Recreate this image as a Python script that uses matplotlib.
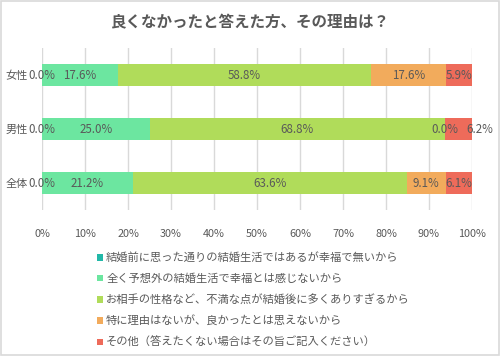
import matplotlib
matplotlib.use("Agg")
import matplotlib.pyplot as plt
from matplotlib.patches import Rectangle
import numpy as np

plt.rcParams['font.family'] = ['Noto Sans CJK JP', 'DejaVu Sans']

categories = ["女性", "男性", "全体"]
series_names = [
    "結婚前に思った通りの結婚生活ではあるが幸福で無いから",
    "全く予想外の結婚生活で幸福とは感じないから",
    "お相手の性格など、不満な点が結婚後に多くありすぎるから",
    "特に理由はないが、良かったとは思えないから",
    "その他（答えたくない場合はその旨ご記入ください）",
]
values = [
    [0.0, 0.0, 0.0],
    [17.6, 25.0, 21.2],
    [58.8, 68.8, 63.6],
    [17.6, 0.0, 9.1],
    [5.9, 6.2, 6.1],
]
colors = ["#22b8a8", "#6ce6a0", "#b0dc5a", "#f2ab5c", "#ee6b5a"]
xticks = [0, 10, 20, 30, 40, 50, 60, 70, 80, 90, 100]
title = "良くなかったと答えた方、その理由は？"

fig = plt.figure(figsize=(5.0, 3.56), dpi=100)
fig.patches.append(Rectangle((0.002, 0.003), 0.995, 0.994, transform=fig.transFigure,
                             fill=False, edgecolor="#d9d9d9", linewidth=1.2))
ax = fig.add_axes([0.084, 0.41, 0.86, 0.455])

y = np.arange(len(categories))[::-1]
left = np.zeros(len(categories))
txt = "#595959"
for i, (name, vals, c) in enumerate(zip(series_names, values, colors)):
    vals = np.array(vals)
    ax.barh(y, vals, left=left, height=0.42, color=c, label=name, zorder=2)
    for j in range(len(categories)):
        cx = left[j] + vals[j] / 2
        dx = 0
        # avoid overlap with a preceding zero-width label at the same spot
        if i > 0 and values[i - 1][j] == 0 and left[j] > 0 and vals[j] < 10:
            dx = 15
        ax.annotate(f"{vals[j]:.1f}%", (cx, y[j]), xytext=(dx, 0), textcoords="offset points",
                    ha="center", va="center", fontsize=8.3, color=txt, zorder=3)
    left = left + vals

ax.set_xlim(0, 100)
ax.set_ylim(-0.5, 2.5)
ax.set_xticks(xticks)
ax.set_xticklabels([f"{t}%" for t in xticks], fontsize=7.8, color=txt)
ax.set_yticks(y)
ax.set_yticklabels(categories, fontsize=8, color=txt)
ax.tick_params(axis="x", length=0, pad=14)
ax.tick_params(axis="y", length=0, pad=10.5)
ax.grid(axis="x", color="#d9d9d9", linewidth=1, zorder=0)
for s in ax.spines.values():
    s.set_visible(False)

fig.text(0.5, 0.937, title, ha="center", va="center", fontsize=11.2,
         fontweight="bold", color=txt)

leg = fig.legend(loc="upper left", bbox_to_anchor=(0.183, 0.307), frameon=False,
                 fontsize=8.1, handlelength=0.55, handleheight=0.55, handletextpad=0.25,
                 labelspacing=0.92, borderpad=0)
for t in leg.get_texts():
    t.set_color(txt)

fig.savefig("out.png", dpi=100)
